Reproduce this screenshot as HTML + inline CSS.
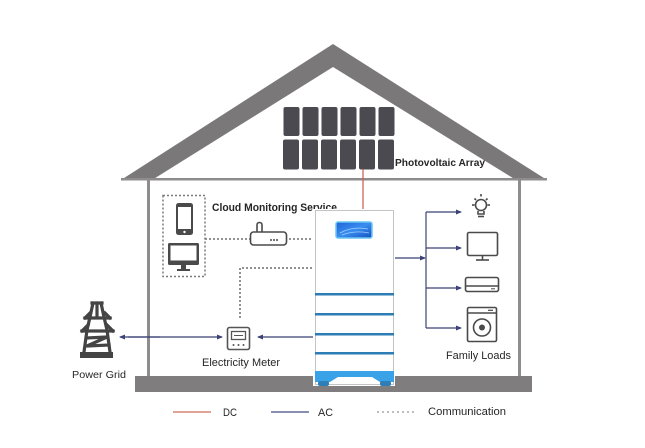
<!DOCTYPE html>
<html><head><meta charset="utf-8"><style>
html,body{margin:0;padding:0;background:#fff;}
svg{display:block;}
text{font-family:"Liberation Sans",Arial,sans-serif;fill:#262626;}
</style></head><body>
<svg width="645" height="448" viewBox="0 0 645 448" xmlns="http://www.w3.org/2000/svg">
<defs>
<marker id="ah" markerWidth="6" markerHeight="6" refX="5" refY="3" orient="auto" markerUnits="userSpaceOnUse">
<path d="M0,0.5 L6,3 L0,5.5 Z" fill="#3b4275"/>
</marker>
<linearGradient id="scr" x1="0" y1="0" x2="1" y2="1">
<stop offset="0" stop-color="#1e63d6"/><stop offset="0.5" stop-color="#3a8ef0"/><stop offset="1" stop-color="#1450c0"/>
</linearGradient>
</defs>
<rect width="645" height="448" fill="#fff"/>

<!-- roof -->
<path d="M121,180 L333,44 L547,180 Z M152,180 L333,67 L516,180 Z" fill="#7a7879" fill-rule="evenodd"/>
<rect x="121" y="178" width="426" height="2.5" fill="#8e8c8d"/>
<!-- walls -->
<rect x="147" y="180" width="3" height="197" fill="#8e8c8d"/>
<rect x="518" y="180" width="3" height="197" fill="#8e8c8d"/>
<!-- slab -->
<rect x="135" y="376" width="397" height="16" fill="#7f7d7e"/>

<!-- solar panels -->
<g fill="#4a4a50">
<rect x="283.5" y="107" width="16" height="29" rx="2"/>
<rect x="302.5" y="107" width="16" height="29" rx="2"/>
<rect x="321.5" y="107" width="16" height="29" rx="2"/>
<rect x="340.5" y="107" width="16" height="29" rx="2"/>
<rect x="359.5" y="107" width="16" height="29" rx="2"/>
<rect x="378.5" y="107" width="16" height="29" rx="2"/>
<rect x="283" y="139.5" width="16" height="30" rx="2"/>
<rect x="302" y="139.5" width="16" height="30" rx="2"/>
<rect x="321" y="139.5" width="16" height="30" rx="2"/>
<rect x="340" y="139.5" width="16" height="30" rx="2"/>
<rect x="359" y="139.5" width="16" height="30" rx="2"/>
<rect x="378" y="139.5" width="16" height="30" rx="2"/>
</g>
<text x="395" y="166" font-size="10.5" font-weight="bold" textLength="90" lengthAdjust="spacingAndGlyphs">Photovoltaic Array</text>

<!-- DC red line -->
<line x1="363" y1="169" x2="363" y2="212" stroke="#d0584e" stroke-width="1.2"/>

<!-- dotted box -->
<rect x="163" y="195.5" width="42" height="81" fill="none" stroke="#7a7a7a" stroke-width="1.5" stroke-dasharray="2 2"/>
<!-- phone -->
<rect x="176" y="203" width="17" height="32" rx="2.5" fill="#4a4a4a"/>
<rect x="178" y="207" width="13" height="22" fill="#fff"/>
<circle cx="184.5" cy="232" r="1.2" fill="#fff"/>
<!-- monitor -->
<rect x="168" y="243" width="31" height="22" rx="1.5" fill="#4a4a4a"/>
<rect x="170.5" y="245.5" width="26" height="15" fill="#fff"/>
<rect x="181" y="265" width="5" height="4" fill="#4a4a4a"/>
<rect x="177" y="269" width="13" height="2" fill="#4a4a4a"/>

<text x="212" y="211" font-size="11" font-weight="bold" textLength="125" lengthAdjust="spacingAndGlyphs">Cloud Monitoring Service</text>

<!-- comm lines -->
<g stroke="#6e6e6e" stroke-width="1.5" stroke-dasharray="2 2" fill="none">
<line x1="205" y1="239" x2="250" y2="239"/>
<line x1="289" y1="239" x2="316" y2="239"/>
<polyline points="316,268 240,268 240,320"/>
</g>
<!-- router -->
<path d="M257,232 L257,225 Q257,222.5 259.5,222.5 Q262,222.5 262,225 L262,232" fill="none" stroke="#4a4a4a" stroke-width="1.6"/>
<rect x="250.5" y="232" width="36" height="13" rx="3" fill="#fff" stroke="#4a4a4a" stroke-width="1.6"/>
<circle cx="271" cy="240" r="1" fill="#4a4a4a"/><circle cx="274" cy="240" r="1" fill="#4a4a4a"/><circle cx="277" cy="240" r="1" fill="#4a4a4a"/>

<!-- meter -->
<rect x="227.5" y="327.5" width="22" height="22" rx="2" fill="#fff" stroke="#555" stroke-width="1.6"/>
<rect x="231.5" y="331.5" width="14" height="8" fill="#fff" stroke="#555" stroke-width="1.3"/>
<line x1="234" y1="335.5" x2="243" y2="335.5" stroke="#555" stroke-width="1"/>
<circle cx="233.5" cy="345" r="1" fill="#555"/><circle cx="238.5" cy="345" r="1" fill="#555"/><circle cx="243.5" cy="345" r="1" fill="#555"/>
<text x="202" y="366" font-size="11" textLength="78" lengthAdjust="spacingAndGlyphs">Electricity Meter</text>

<!-- AC lines -->
<g stroke="#3b4275" stroke-width="1.2" fill="none">
<line x1="128" y1="337" x2="222" y2="337" marker-end="url(#ah)"/>
<line x1="160" y1="337" x2="120" y2="337" marker-end="url(#ah)"/>
<line x1="314" y1="337" x2="258" y2="337" marker-end="url(#ah)"/>
<line x1="394" y1="258" x2="425" y2="258" marker-end="url(#ah)"/>
<line x1="426" y1="212" x2="426" y2="328"/>
<line x1="426" y1="212" x2="461" y2="212" marker-end="url(#ah)"/>
<line x1="426" y1="248" x2="461" y2="248" marker-end="url(#ah)"/>
<line x1="426" y1="288" x2="461" y2="288" marker-end="url(#ah)"/>
<line x1="426" y1="328" x2="461" y2="328" marker-end="url(#ah)"/>
</g>

<!-- power tower -->
<g fill="none" stroke="#444" stroke-width="3.2" stroke-linejoin="round" stroke-linecap="square">
<path d="M92,303 L102,303 M93,303 L90,317 L87,330 L84,352 M101,303 L104,317 L107,330 L110,352"/>
<path d="M85,318 L110,318 M82,331 L113,331"/>
<path d="M85,318 L90,313 M110,318 L105,313 M82,331 L88,325 M113,331 L107,325"/>
<path d="M87,338 L107,337 L87,346 L109,345"/>
<path d="M97,303 L97,317"/>
</g>
<rect x="80" y="352" width="33" height="6" fill="#444"/>
<text x="72" y="378" font-size="10.5" textLength="54" lengthAdjust="spacingAndGlyphs">Power Grid</text>

<!-- family loads icons -->
<g fill="none" stroke="#4a4a4a" stroke-width="1.6">
<circle cx="481" cy="205" r="5.5"/>
<path d="M478,211 L478,214 L484,214 L484,211"/>
<line x1="478" y1="216.5" x2="484" y2="216.5"/>
<line x1="481" y1="194" x2="481" y2="196.5"/>
<line x1="472" y1="205" x2="474.5" y2="205"/>
<line x1="487.5" y1="205" x2="490" y2="205"/>
<line x1="474.5" y1="198.5" x2="476" y2="200"/>
<line x1="487.5" y1="198.5" x2="486" y2="200"/>
<rect x="467.5" y="232.5" width="30" height="23" rx="1.5"/>
<line x1="482.5" y1="256" x2="482.5" y2="259.5"/>
<line x1="476" y1="260" x2="489" y2="260"/>
<rect x="465.5" y="277.5" width="33" height="14" rx="2"/>
<line x1="466" y1="286" x2="498" y2="286"/>
<rect x="467.5" y="307.5" width="29" height="34" rx="1.5"/>
<line x1="468" y1="313" x2="496" y2="313"/>
<circle cx="482" cy="327.5" r="8.5"/>
</g>
<line x1="488" y1="310.3" x2="493" y2="310.3" stroke="#4a4a4a" stroke-width="1.2"/>
<line x1="491" y1="288.8" x2="495" y2="288.8" stroke="#4a4a4a" stroke-width="1"/>
<circle cx="482" cy="327.5" r="3" fill="#4a4a4a"/>
<text x="446" y="359" font-size="11" textLength="65" lengthAdjust="spacingAndGlyphs">Family Loads</text>

<!-- battery -->
<rect x="313" y="209" width="82" height="177" fill="#fff"/>
<rect x="315.5" y="210.5" width="78" height="174" fill="#fff" stroke="#c4c4c4" stroke-width="1"/>
<rect x="336" y="222" width="36" height="16" rx="2" fill="url(#scr)" stroke="#6cc6f2" stroke-width="1.5"/>
<path d="M340,233 Q352,226 368,229 M342,235 Q355,230 369,233" stroke="#9ad0ff" stroke-width="0.8" fill="none"/>
<g fill="#2c7db6">
<rect x="315" y="293" width="79" height="2.5"/>
<rect x="315" y="313" width="79" height="2.5"/>
<rect x="315" y="333" width="79" height="2.5"/>
<rect x="315" y="352" width="79" height="2.5"/>
</g>
<path d="M315,371 L394,371 L394,382 L380,382 L372,377 L338,377 L330,382 L315,382 Z" fill="#3aa3e8"/>
<rect x="318" y="381" width="11" height="5" rx="2" fill="#2f7fb6"/>
<rect x="380" y="381" width="11" height="5" rx="2" fill="#2f7fb6"/>

<!-- legend -->
<line x1="173" y1="412" x2="211" y2="412" stroke="#e0a496" stroke-width="2"/>
<text x="223" y="416" font-size="11" textLength="14" lengthAdjust="spacingAndGlyphs">DC</text>
<line x1="271" y1="412" x2="309" y2="412" stroke="#8a8fb2" stroke-width="2"/>
<text x="318" y="416" font-size="11" textLength="15" lengthAdjust="spacingAndGlyphs">AC</text>
<line x1="377" y1="412" x2="417" y2="412" stroke="#a8a8a8" stroke-width="1.5" stroke-dasharray="2 3"/>
<text x="428" y="415" font-size="11" textLength="78" lengthAdjust="spacingAndGlyphs">Communication</text>
</svg>
</body></html>
